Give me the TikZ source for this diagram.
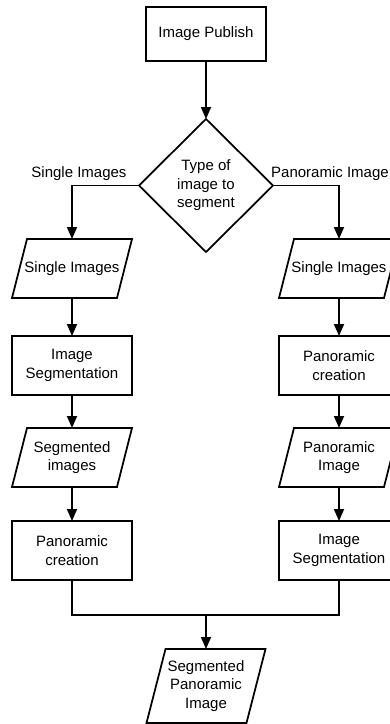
\documentclass[tikz,border=0pt]{standalone}
\usepackage{fontspec}
\setmainfont{Liberation Sans}
\usetikzlibrary{arrows.meta,shapes.geometric,calc}

\begin{document}
\begin{tikzpicture}[x=1pt,y=-1pt,
  every node/.style={font=\fontsize{15}{18.5}\selectfont, align=center, inner sep=0pt, outer sep=0pt},
  line/.style={line width=1.75pt},
  flow/.style={line, -{Triangle[length=12pt,width=10pt]}},
  procbox/.style={draw, line width=1.75pt, minimum width=120pt, minimum height=59pt},
  iobox/.style={minimum width=120pt, minimum height=59pt},
  decision/.style={draw, line width=1.75pt, shape=diamond, aspect=1, minimum width=134pt, minimum height=133pt}
]
\useasboundingbox (0,0) rectangle (390,724);

% top of the flow
\node[procbox, minimum height=54pt] (pub) at (206,34) {Image Publish};
\node[decision] (type) at (206,185.5) {Type of\\image to\\segment};

% branch labels
\node[anchor=base] (lblL) at (79,177) {Single Images};
\node[anchor=base] (lblR) at (330,177) {Panoramic Image};

% left column: segment first, then stitch
\node[iobox]   (l1) at (72,268.5) {Single Images};
\node[procbox] (l2) at (72,365.5) {Image\\Segmentation};
\node[iobox]   (l3) at (72,457.5) {Segmented\\images};
\node[procbox] (l4) at (72,550.5) {Panoramic\\creation};

% right column: stitch first, then segment
\node[iobox]   (r1) at (339,268.5) {Single Images};
\node[procbox] (r2) at (339,365.5) {Panoramic\\creation};
\node[iobox]   (r3) at (339,457.5) {Panoramic\\Image};
\node[procbox] (r4) at (339,550.5) {Image\\Segmentation};

% result
\node[iobox, minimum width=119pt, minimum height=74pt] (fin) at (206,686) {Segmented\\Panoramic\\Image};

% parallelogram outlines for the data nodes
\foreach \n in {l1,l3,r1,r3}{
  \draw[line, line join=miter]
    (\n.south west) -- ($(\n.north west)+(15,0)$) -- (\n.north east)
    -- ($(\n.south east)+(-15,0)$) -- cycle;
}
\draw[line, line join=miter]
  (fin.south west) -- ($(fin.north west)+(19,0)$) -- (fin.north east)
  -- ($(fin.south east)+(-19,0)$) -- cycle;

% connectors
\draw[flow] (pub.south) -- (type.north);
\draw[flow] (type.west) -| (l1.north);
\draw[flow] (type.east) -| (r1.north);

\draw[flow] (l1.south) -- (l2.north);
\draw[flow] (l2.south) -- (l3.north);
\draw[flow] (l3.south) -- (l4.north);

\draw[flow] (r1.south) -- (r2.north);
\draw[flow] (r2.south) -- (r3.north);
\draw[flow] (r3.south) -- (r4.north);

% both branches join and feed the result
\coordinate (merge) at (206,615);
\draw[line, line join=miter] (l4.south) |- (r4.south |- merge) -- (r4.south);
\draw[flow] (merge) -- (fin.north);
\end{tikzpicture}
\end{document}
